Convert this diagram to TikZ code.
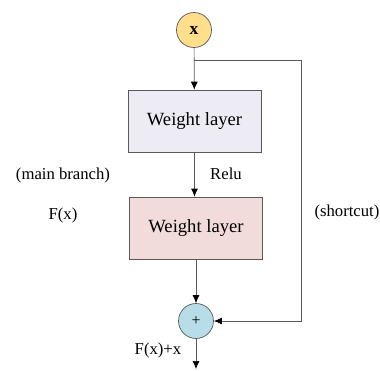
\documentclass[tikz,border=0pt]{standalone}
\usepackage{fontspec}
\setmainfont{Liberation Serif}
\newfontfamily\timesfont{Liberation Serif}
\usetikzlibrary{arrows.meta}

\definecolor{inyellow}{HTML}{FFDF8C}
\definecolor{layerone}{HTML}{EDEBF4}
\definecolor{layertwo}{HTML}{F2DCDB}
\definecolor{addblue}{HTML}{B7DEE8}
\definecolor{edgegray}{HTML}{595959}

\tikzset{
    layer/.style = {draw=edgegray, minimum width=2.66cm, minimum height=1.24cm,
                    font=\timesfont\fontsize{10.6}{12}\selectfont},
    op/.style    = {circle, draw=edgegray, minimum size=0.7cm, inner sep=0pt},
    flow/.style  = {draw=edgegray, -{Latex[length=1.6mm, width=1.4mm, black]}},
    lbl/.style   = {font=\timesfont\fontsize{9.5}{11}\selectfont}
}

\begin{document}
\begin{tikzpicture}[x=0.02cm, y=-0.02cm]
        \useasboundingbox (0,0) rectangle (380,370);
        % input, the two layers and the sum
        \node[op, fill=inyellow, font=\timesfont\fontsize{10}{12}\selectfont\bfseries] (in) at (194,30) {x};
        \node[layer, fill=layerone] (wl1) at (194.5,121) {Weight layer};
        \node[layer, fill=layertwo] (wl2) at (196,228) {Weight layer};
        \node[op, fill=addblue, font=\timesfont\fontsize{9}{10}\selectfont] (add) at (196,321) {+};
        \coordinate (split) at (194,60);
        \coordinate (corner1) at (301,60);
        \coordinate (corner2) at (301,321);
        \coordinate (out) at (196,369);
        % main branch
        \draw[flow] (in) -- (wl1);
        \draw[flow] (wl1.south) -- (wl1.south |- wl2.north);
        \draw[flow] (wl2) -- (add);
        \draw[flow] (add) -- (out);
        % shortcut
        \draw[flow] (split) -- (corner1) -- (corner2) -- (add);
        % labels
        \node[lbl] (relu) at (226,174) {Relu};
        \node[lbl] (mainlbl) at (63,175) {(main branch)};
        \node[lbl] (fx) at (63,215) {F(x)};
        \node[lbl] (short) at (347,212) {(shortcut)};
        \node[lbl] (sum) at (158,350) {F(x)+x};
\end{tikzpicture}
\end{document}
